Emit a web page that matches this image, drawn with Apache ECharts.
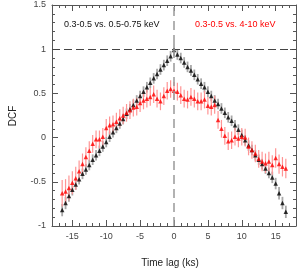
<!DOCTYPE html>
<html><head><meta charset="utf-8">
<script src="https://cdn.jsdelivr.net/npm/echarts@6/dist/echarts.min.js"></script>
<style>html,body{margin:0;padding:0;background:#fff}#c{width:304px;height:272px}</style>
</head><body><div id="c"></div>
<script>
const lags = [-16.5,-16,-15.5,-15,-14.5,-14,-13.5,-13,-12.5,-12,-11.5,-11,-10.5,-10,-9.5,-9,-8.5,-8,-7.5,-7,-6.5,-6,-5.5,-5,-4.5,-4,-3.5,-3,-2.5,-2,-1.5,-1,-0.5,0,0.5,1,1.5,2,2.5,3,3.5,4,4.5,5,5.5,6,6.5,7,7.5,8,8.5,9,9.5,10,10.5,11,11.5,12,12.5,13,13.5,14,14.5,15,15.5,16,16.5];
const dcfSoft = [-0.82,-0.74,-0.66,-0.59,-0.53,-0.47,-0.41,-0.36,-0.31,-0.25,-0.20,-0.15,-0.10,-0.05,0.01,0.06,0.11,0.16,0.21,0.27,0.32,0.37,0.42,0.47,0.52,0.57,0.62,0.67,0.72,0.77,0.82,0.87,0.92,0.99,0.94,0.90,0.85,0.80,0.76,0.71,0.66,0.61,0.57,0.52,0.47,0.42,0.38,0.33,0.28,0.23,0.19,0.14,0.09,0.03,-0.03,-0.09,-0.14,-0.20,-0.25,-0.30,-0.35,-0.40,-0.45,-0.52,-0.63,-0.74,-0.84];
const errSoft = [0.07,0.07,0.065,0.065,0.06,0.06,0.06,0.06,0.06,0.06,0.06,0.06,0.06,0.06,0.06,0.06,0.06,0.06,0.06,0.06,0.06,0.06,0.06,0.06,0.06,0.06,0.06,0.06,0.06,0.06,0.06,0.06,0.06,0.07,0.06,0.06,0.06,0.06,0.06,0.06,0.06,0.06,0.06,0.06,0.06,0.06,0.06,0.06,0.06,0.06,0.06,0.06,0.06,0.06,0.06,0.06,0.06,0.06,0.06,0.06,0.06,0.06,0.065,0.065,0.07,0.07,0.07];
const dcfHard = [-0.63,-0.61,-0.57,-0.51,-0.46,-0.38,-0.30,-0.22,-0.15,-0.07,-0.02,-0.02,0.01,0.11,0.14,0.15,0.18,0.22,0.25,0.28,0.31,0.34,0.35,0.39,0.42,0.44,0.46,0.49,0.44,0.41,0.47,0.53,0.55,0.53,0.52,0.48,0.44,0.43,0.46,0.44,0.41,0.41,0.43,0.36,0.35,0.37,0.20,0.10,0.02,-0.04,-0.03,0.01,-0.01,0.01,0.00,-0.10,-0.14,-0.18,-0.24,-0.27,-0.29,-0.27,-0.31,-0.23,-0.30,-0.33,-0.35];
const errHard = [0.15,0.14,0.14,0.13,0.13,0.12,0.12,0.11,0.11,0.1,0.1,0.1,0.1,0.1,0.1,0.1,0.1,0.1,0.1,0.1,0.1,0.1,0.1,0.1,0.1,0.1,0.1,0.1,0.1,0.1,0.1,0.1,0.1,0.1,0.1,0.1,0.1,0.1,0.1,0.1,0.1,0.1,0.1,0.1,0.1,0.1,0.1,0.1,0.1,0.1,0.1,0.1,0.1,0.1,0.1,0.1,0.1,0.1,0.1,0.11,0.11,0.11,0.11,0.11,0.11,0.11,0.11];
const xMajorTicks = [-15,-10,-5,0,5,10,15];
const yTickLabels = [-1,-0.5,0,0.5,1,1.5];
const label1 = '0.3-0.5 vs. 0.5-0.75 keV';
const label2 = '0.3-0.5 vs. 4-10 keV';

const FONT = 'Liberation Sans, Arial, sans-serif';
const AX = '#555';
const chart = echarts.init(document.getElementById('c'), null, {renderer:'canvas'});
const gridRect = {left:52, right:8, top:5, bottom:46};

function errData(v, e){ return lags.map((x,i)=>[x, v[i]-e[i], v[i]+e[i]]); }
function errSeries(v, e, color, w){
  return {type:'custom', xAxisIndex:0, yAxisIndex:0, z:2,
    data: errData(v,e), encode:{x:0, y:[1,2]},
    renderItem:function(params, api){
      const p1 = api.coord([api.value(0), api.value(1)]);
      const p2 = api.coord([api.value(0), api.value(2)]);
      return {type:'line', shape:{x1:p1[0],y1:p1[1],x2:p2[0],y2:p2[1]}, style:{stroke:color, lineWidth:w}};
    }, silent:true, animation:false};
}
const minorX = {min:-18, max:18, interval:1};
const option = {
  animation:false,
  grid:[Object.assign({}, gridRect), Object.assign({}, gridRect)],
  xAxis:[
    Object.assign({type:'value', gridIndex:0, position:'bottom',
      axisLine:{show:true, onZero:false, lineStyle:{color:AX, width:1}},
      axisTick:{show:true, inside:true, length:3, lineStyle:{color:AX}},
      axisLabel:{show:true, customValues:xMajorTicks, margin:6, color:'#444', fontSize:9, fontFamily:FONT},
      splitLine:{show:false}}, minorX),
    Object.assign({type:'value', gridIndex:0, position:'top',
      axisLine:{show:true, onZero:false, lineStyle:{color:AX, width:1}},
      axisTick:{show:true, inside:true, length:3, lineStyle:{color:AX}},
      axisLabel:{show:false}, splitLine:{show:false}}, minorX),
    Object.assign({type:'value', gridIndex:1, position:'bottom',
      axisLine:{show:false, onZero:false},
      axisTick:{show:true, inside:true, length:6, customValues:xMajorTicks, lineStyle:{color:AX}},
      axisLabel:{show:false}, splitLine:{show:false}}, minorX),
    Object.assign({type:'value', gridIndex:1, position:'top',
      axisLine:{show:false, onZero:false},
      axisTick:{show:true, inside:true, length:6, customValues:xMajorTicks, lineStyle:{color:AX}},
      axisLabel:{show:false}, splitLine:{show:false}}, minorX)
  ],
  yAxis:[
    {type:'value', gridIndex:0, position:'left', min:-1, max:1.5, interval:0.5,
      axisLine:{show:true, onZero:false, lineStyle:{color:AX, width:1}},
      axisTick:{show:true, inside:true, length:6, lineStyle:{color:AX}},
      minorTick:{show:true, splitNumber:5, length:3, lineStyle:{color:AX}},
      axisLabel:{show:true, customValues:yTickLabels, margin:6, color:'#444', fontSize:9, fontFamily:FONT},
      splitLine:{show:false}, minorSplitLine:{show:false}},
    {type:'value', gridIndex:0, position:'right', min:-1, max:1.5, interval:0.5,
      axisLine:{show:true, onZero:false, lineStyle:{color:AX, width:1}},
      axisTick:{show:true, inside:true, length:6, lineStyle:{color:AX}},
      minorTick:{show:true, splitNumber:5, length:3, lineStyle:{color:AX}},
      axisLabel:{show:false}, splitLine:{show:false}, minorSplitLine:{show:false}},
    {type:'value', gridIndex:1, min:-1, max:1.5, show:false}
  ],
  graphic:[
    {type:'text', left:64, top:20, style:{text:label1, fill:'#111', fontSize:9, fontFamily:FONT}},
    {type:'text', left:195, top:20, style:{text:label2, fill:'#ff0000', fontSize:9, fontFamily:FONT}},
    {type:'text', x:13, y:116, rotation:Math.PI/2, style:{text:'DCF', fill:'#222', fontSize:10, fontFamily:FONT, align:'center', verticalAlign:'middle'}},
    {type:'text', x:170, y:263, style:{text:'Time lag (ks)', fill:'#222', fontSize:10, fontFamily:FONT, align:'center', verticalAlign:'middle'}}
  ],
  series:[
    {type:'line', xAxisIndex:0, yAxisIndex:0, data:[], silent:true, z:1,
      markLine:{silent:true, symbol:['none','none'], label:{show:false}, animation:false,
        data:[
          [{coord:[-18,1]},{coord:[18,1]}],
        ],
        lineStyle:{color:'#444', type:[8,4], width:1}}},
    {type:'line', xAxisIndex:0, yAxisIndex:0, data:[], silent:true, z:1,
      markLine:{silent:true, symbol:['none','none'], label:{show:false}, animation:false,
        data:[
          [{coord:[0,-1]},{coord:[0,1.5]}]
        ],
        lineStyle:{color:'#999', type:[9,5], width:1.5}}},
    errSeries(dcfSoft, errSoft, '#a8a8a8', 1.8),
    {type:'scatter', xAxisIndex:0, yAxisIndex:0, symbol:'triangle', symbolSize:4.5, z:3,
      itemStyle:{color:'#000'}, data:lags.map((x,i)=>[x,dcfSoft[i]])},
    errSeries(dcfHard, errHard, '#ff9494', 1.2),
    {type:'scatter', xAxisIndex:0, yAxisIndex:0, symbol:'triangle', symbolSize:4.5, z:4,
      itemStyle:{color:'#ff0000'}, data:lags.map((x,i)=>[x,dcfHard[i]])}
  ]
};
chart.setOption(option);
</script></body></html>
